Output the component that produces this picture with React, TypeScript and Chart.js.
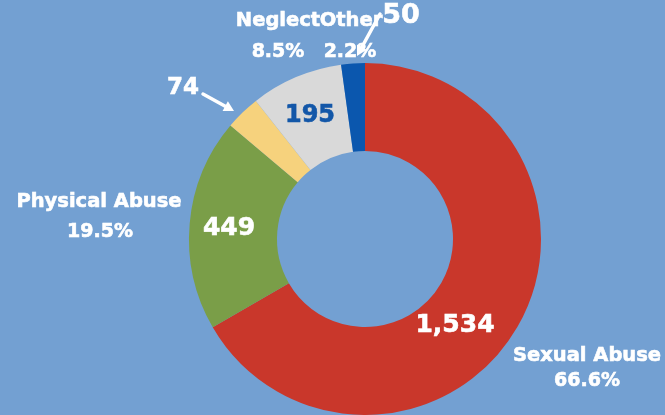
import React, { useEffect, useRef } from "react";
import { Chart, registerables } from "chart.js";

Chart.register(...registerables);

const categories = ["Sexual Abuse", "Physical Abuse", "Emotional Abuse", "Neglect", "Other"];
const counts = [1534, 449, 74, 195, 50];
const countLabels = ["1,534", "449", "74", "195", "50"];
const percentLabels = ["66.6%", "19.5%", "3.2%", "8.5%", "2.2%"];
const sliceColors = ["#C9372B", "#7A9E48", "#F6D27D", "#D9D9D9", "#0B57AE"];

const BG = "#73A0D2";
const FONT = "'DejaVu Sans', sans-serif";

type TextItem = { text: string; x: number; y: number; size: number; color?: string };

function buildTexts(): TextItem[] {
  return [
    { text: countLabels[0], x: 455, y: 325, size: 25 },
    { text: countLabels[1], x: 229, y: 228, size: 25 },
    { text: countLabels[3], x: 310, y: 116, size: 24, color: "#1357A8" },
    { text: countLabels[2], x: 183, y: 88, size: 23 },
    { text: countLabels[4], x: 401, y: 16, size: 27 },
    { text: categories[1], x: 99, y: 202, size: 19.5 },
    { text: percentLabels[1], x: 100, y: 232, size: 19 },
    { text: categories[0], x: 587, y: 356, size: 19.5 },
    { text: percentLabels[0], x: 587, y: 381, size: 19 },
    { text: categories[3], x: 278, y: 21, size: 19.5 },
    { text: percentLabels[3], x: 278, y: 52, size: 19 },
    { text: categories[4], x: 351, y: 21, size: 19.5 },
    { text: percentLabels[4], x: 350, y: 52, size: 19 },
  ];
}

const arrows = [
  { x1: 203, y1: 94, x2: 234, y2: 111 },
  { x1: 380, y1: 14, x2: 357, y2: 56 },
];

const annotationPlugin = {
  id: "annotations",
  beforeDraw(chart: any) {
    const ctx = chart.ctx;
    ctx.save();
    ctx.fillStyle = BG;
    ctx.fillRect(0, 0, chart.width, chart.height);
    ctx.restore();
  },
  afterDraw(chart: any) {
    const ctx = chart.ctx;
    ctx.save();
    ctx.textAlign = "center";
    ctx.textBaseline = "middle";
    for (const t of buildTexts()) {
      ctx.font = `bold ${t.size}px ${FONT}`;
      ctx.fillStyle = t.color || "#FFFFFF";
      ctx.strokeStyle = t.color || "#FFFFFF";
      ctx.lineWidth = 0.6;
      ctx.fillText(t.text, t.x, t.y);
      ctx.strokeText(t.text, t.x, t.y);
    }
    ctx.strokeStyle = "#FFFFFF";
    ctx.fillStyle = "#FFFFFF";
    ctx.lineWidth = 3.5;
    ctx.lineCap = "round";
    for (const a of arrows) {
      const ang = Math.atan2(a.y2 - a.y1, a.x2 - a.x1);
      const head = 10;
      const bx = a.x2 - head * Math.cos(ang);
      const by = a.y2 - head * Math.sin(ang);
      ctx.beginPath();
      ctx.moveTo(a.x1, a.y1);
      ctx.lineTo(bx, by);
      ctx.stroke();
      ctx.beginPath();
      ctx.moveTo(a.x2, a.y2);
      ctx.lineTo(bx + 5.5 * Math.cos(ang + Math.PI / 2), by + 5.5 * Math.sin(ang + Math.PI / 2));
      ctx.lineTo(bx + 5.5 * Math.cos(ang - Math.PI / 2), by + 5.5 * Math.sin(ang - Math.PI / 2));
      ctx.closePath();
      ctx.fill();
    }
    ctx.restore();
  },
};

export default function App() {
  const ref = useRef<HTMLCanvasElement>(null);
  useEffect(() => {
    if (!ref.current) return;
    const chart = new Chart(ref.current, {
      type: "doughnut",
      data: {
        labels: categories,
        datasets: [
          {
            data: counts,
            backgroundColor: sliceColors,
            borderWidth: 0,
          },
        ],
      },
      options: {
        responsive: false,
        animation: false,
        cutout: "50%",
        rotation: 0,
        layout: { padding: { top: 63, left: 189, right: 124, bottom: 0 } },
        plugins: {
          legend: { display: false },
          tooltip: { enabled: false },
        },
      },
      plugins: [annotationPlugin],
    });
    return () => chart.destroy();
  }, []);
  return (
    <div style={{ position: "fixed", left: 0, top: 0, width: 665, height: 415, background: BG }}>
      <canvas ref={ref} width={665} height={415} style={{ display: "block" }} />
    </div>
  );
}
